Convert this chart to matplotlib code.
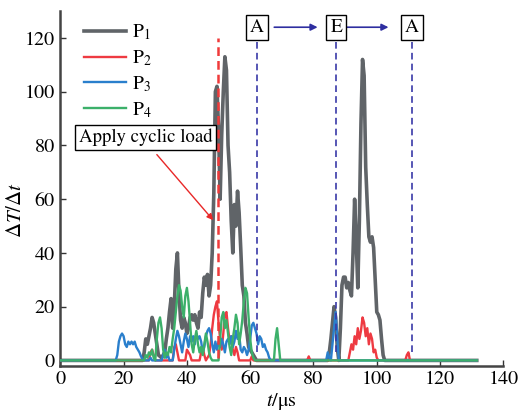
import matplotlib
matplotlib.use("Agg")
import matplotlib.pyplot as plt

# ---- data (t in us, dT/dt) ----
t_p1 = [0, 26, 26.5, 27, 27.5, 28, 28.5, 29, 29.5, 30, 30.5, 31, 32, 33, 33.5, 34, 34.5, 35, 35.5,
        36, 36.5, 37, 37.5, 38, 38.5, 39, 39.5, 40, 40.5, 41, 41.5, 42, 42.5, 43, 43.5, 44, 44.5,
        45, 45.5, 46, 46.5, 47, 47.5, 48, 48.5, 49, 49.5, 50, 50.5, 51, 51.5, 52, 52.5, 53, 53.5,
        54, 54.5, 55, 55.5, 56, 56.5, 57, 57.5, 58, 58.5, 59, 59.5, 60, 60.5, 61, 62, 84.5, 85,
        85.5, 86, 86.5, 87, 87.5, 88, 88.5, 89, 89.5, 90, 90.5, 91, 91.5, 92, 92.5, 93, 93.5, 94,
        94.5, 95, 95.5, 96, 96.5, 97, 97.5, 98, 98.5, 99, 99.5, 100, 100.5, 101, 101.5, 102, 102.5,
        131.6]
v_p1 = [0, 0, 3, 8, 6, 9, 12, 16, 14, 10, 6, 2, 1, 3, 8, 12, 18, 23, 12,
        20, 34, 40, 25, 15, 12, 16, 14, 10, 12, 16, 17, 15, 17, 14, 12, 18, 16,
        25, 31, 28, 32, 24, 28, 40, 62, 100, 102, 86, 60, 84, 100, 113, 108, 80, 70,
        52, 40, 58, 50, 63, 55, 42, 28, 24, 14, 10, 5, 4, 3, 2, 0, 0, 3,
        8, 14, 20, 16, 5, 0, 12, 28, 31, 31, 27, 29, 26, 24, 40, 60, 45, 27,
        52, 88, 112, 106, 72, 58, 46, 44, 46, 42, 30, 18, 17, 15, 8, 2, 0,
        0]

t_p2 = [0, 28, 28.5, 29, 29.5, 30, 35.5, 36, 36.5, 37, 37.5, 39.5, 40, 40.5, 41, 41.5, 44, 44.5,
        45, 45.5, 46, 47, 47.5, 48, 48.5, 49, 49.5, 50, 50.5, 51, 51.5, 52, 52.5, 53, 53.5, 54,
        54.5, 55, 55.5, 56, 56.5, 60, 60.5, 61, 78, 78.5, 79, 91, 91.5, 92, 92.5, 93, 93.5, 94,
        94.5, 95, 95.5, 96, 96.5, 97, 97.5, 98, 98.5, 99, 99.5, 100, 100.5, 109, 109.5, 110, 110.5,
        131.6]
v_p2 = [0, 0, 3, 4, 2, 0, 0, 5, 6, 3, 0, 0, 4, 3, 2, 0, 0, 3,
        5, 2, 0, 2, 6, 12, 17, 20, 22, 14, 8, 4, 10, 17, 18, 12, 7, 9,
        4, 2, 5, 3, 0, 0, 1.5, 0, 0, 1.5, 0, 0, 3, 6, 4, 9, 6, 12,
        8, 11, 16, 14, 9, 12, 6, 10, 8, 3, 4, 1, 0, 0, 2, 3, 0,
        0]

t_p3 = [0, 17.5, 18, 18.5, 19, 19.5, 20, 20.5, 21, 21.5, 22, 22.5, 23, 23.5, 24, 24.5, 25, 25.5,
        26, 26.5, 28, 28.5, 29, 32, 32.5, 33, 33.5, 34, 34.5, 35.5, 36, 36.5, 37, 37.5, 38, 38.5,
        39, 39.5, 40, 40.5, 41, 41.5, 42, 42.5, 43, 43.5, 44, 44.5, 45, 45.5, 46, 46.5, 47, 47.5,
        48, 48.5, 49, 49.5, 50, 50.5, 51, 51.5, 52, 52.5, 53, 53.5, 54, 54.5, 55, 55.5, 56, 56.5,
        57, 57.5, 58, 58.5, 59, 59.5, 60, 60.5, 61, 61.5, 62, 62.5, 63, 63.5, 64, 64.5, 65, 65.5,
        66, 66.5, 84, 84.5, 85, 85.5, 86, 86.5, 87, 87.5, 88, 131.6]
v_p3 = [0, 0, 2, 7, 9, 10, 9, 6, 5, 7, 6, 7, 6, 7, 5, 4, 3, 1.5,
        0.5, 0, 0, 1, 0, 0, 2, 4, 1, 2, 0, 0, 4, 8, 11, 9, 6, 3,
        7, 10, 8, 5, 9, 7, 9, 6, 10, 8, 9, 7, 3, 5, 9, 11, 12, 10,
        6, 3, 7, 4, 7, 5, 8, 6, 3, 7, 8, 6, 9, 5, 7, 11, 8, 10,
        4, 3, 5, 4, 2, 4, 8, 13, 14, 12, 10, 6, 9, 8, 5, 6, 4, 3,
        1, 0, 0, 3, 1, 0, 6, 12, 18, 9, 0, 0]

t_p4 = [0, 26.5, 27, 27.5, 28, 28.5, 29, 29.5, 30, 30.5, 31, 31.5, 32, 32.5, 33, 33.5, 34, 34.5,
        35, 35.5, 36, 36.5, 37, 37.5, 38, 38.5, 39, 39.5, 40, 40.5, 41, 41.5, 42, 42.5, 43, 43.5,
        44, 44.5, 45, 45.5, 46, 46.5, 47, 47.5, 48, 50, 50.5, 51, 51.5, 52, 52.5, 53, 53.5, 54,
        54.5, 55, 55.5, 56, 56.5, 57, 57.5, 58, 58.5, 59, 59.5, 60, 60.5, 61, 61.5, 67.5, 68, 68.5,
        69, 69.5, 131.6]
v_p4 = [0, 0, 2, 1, 3, 2, 4, 1, 0, 8, 14, 16, 12, 4, 1, 3, 2, 5,
        3, 8, 12, 18, 24, 28, 26, 20, 16, 24, 27, 22, 14, 6, 3, 8, 11, 6,
        3, 5, 2, 6, 10, 7, 3, 1, 0, 0, 8, 16, 18, 12, 15, 10, 5, 2,
        8, 12, 17, 14, 6, 10, 15, 22, 27, 25, 16, 8, 3, 1, 0, 0, 8, 12,
        6, 0, 0]

labels = [r"$\mathrm{P}_1$", r"$\mathrm{P}_2$", r"$\mathrm{P}_3$", r"$\mathrm{P}_4$"]
colors = ["#606468", "#ee3a42", "#2a7fcc", "#3cb06a"]

# stage markers
load_t = 49.8
stage_t = [62.1, 87.2, 111.2]
stage_names = ["A", "E", "A"]

plt.rcParams["font.family"] = ["STIXGeneral", "DejaVu Serif"]
plt.rcParams["mathtext.fontset"] = "stix"

fig = plt.figure(figsize=(5.2, 4.11), dpi=100)
ax = fig.add_axes([0.116, 0.11, 0.852, 0.863])

series = [(t_p1, v_p1), (t_p2, v_p2), (t_p3, v_p3), (t_p4, v_p4)]
widths = [2.6, 1.7, 1.7, 1.7]
zorders = [2, 3, 4, 5]
for (t, v), lab, c, lw, z in zip(series, labels, colors, widths, zorders):
    ax.plot(t, v, color=c, lw=lw, label=lab, zorder=z)

# load line and stage lines
ax.plot([load_t, load_t], [1, 120], color="#f03a3a", lw=1.8, ls=(0, (3.5, 2)), zorder=6)
for st in stage_t:
    ax.plot([st, st], [3, 119], color="#3a3aa8", lw=1.2, ls=(0, (4, 2.5)), zorder=6)

box = dict(boxstyle="square,pad=0.2", fc="white", ec="black", lw=1.0)
for st, name in zip(stage_t, stage_names):
    ax.text(st, 124, name, ha="center", va="center", fontsize=14, bbox=box, zorder=7)
for a, b in [(67.6, 81.3), (90.4, 103.7)]:
    ax.annotate("", xy=(b, 124), xytext=(a, 124),
                arrowprops=dict(arrowstyle="-|>", color="#2e2ea0", lw=1.2,
                                mutation_scale=10, shrinkA=0, shrinkB=0))

ax.text(26.9, 83, "Apply cyclic load", ha="center", va="center", fontsize=13.5,
        bbox=dict(boxstyle="square,pad=0.2", fc="white", ec="black", lw=1.0), zorder=7)
ax.annotate("", xy=(48.3, 52.2), xytext=(30.5, 76.6),
            arrowprops=dict(arrowstyle="-|>", color="#e82828", lw=1.0,
                            mutation_scale=9, shrinkA=0, shrinkB=0), zorder=7)

ax.set_xlim(0, 140)
ax.set_ylim(-2, 130)
ax.set_xticks(range(0, 141, 20))
ax.set_yticks(range(0, 121, 20))
ax.tick_params(direction="in", length=4, width=1.0, labelsize=14.5, color="#333333", pad=4)
for s in ["top", "right"]:
    ax.spines[s].set_visible(False)
for s in ["left", "bottom"]:
    ax.spines[s].set_linewidth(1.8)
    ax.spines[s].set_color("#444444")

ax.set_xlabel(r"$t$/μs", fontsize=14.5)
ax.xaxis.set_label_coords(0.5, -0.07)
ax.set_ylabel(r"$\Delta T/\Delta t$", fontsize=15)
ax.yaxis.set_label_coords(-0.078, 0.44)

ax.legend(loc="upper left", bbox_to_anchor=(0.035, 0.99), frameon=False, fontsize=14,
          handlelength=2.2, handletextpad=0.3, labelspacing=0.32, borderaxespad=0)

fig.savefig("out.png", dpi=100)
